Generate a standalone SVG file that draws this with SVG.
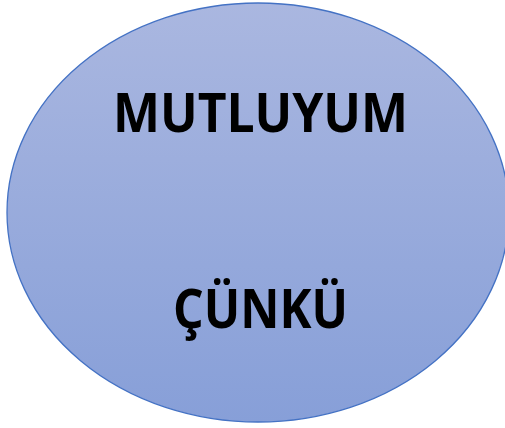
<svg xmlns="http://www.w3.org/2000/svg" width="505" height="428" viewBox="0 0 505 428">
<defs>
<linearGradient id="g" x1="0" y1="0" x2="0" y2="1">
<stop offset="0" stop-color="#aab7e0"/>
<stop offset="1" stop-color="#879fd8"/>
</linearGradient>
<style>
.t{font-family:"Open Sans","Liberation Sans",sans-serif;font-weight:bold;font-size:53px;fill:#000;text-anchor:middle}
</style>
</defs>
<g id="node-ellipse">
<ellipse cx="258" cy="212.5" rx="251" ry="209.5" fill="url(#g)" stroke="#4472c4" stroke-width="1.3"/>
<text class="t" x="260.5" y="132" textLength="295" lengthAdjust="spacingAndGlyphs">MUTLUYUM</text>
<text class="t" x="260.5" y="328" textLength="175" lengthAdjust="spacingAndGlyphs">ÇÜNKÜ</text>
</g>
<g id="connectors"/>
</svg>
